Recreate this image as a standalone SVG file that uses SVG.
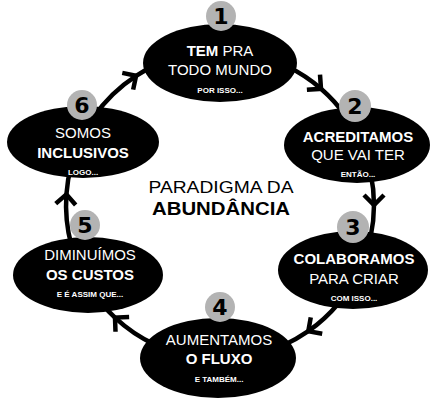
<svg xmlns="http://www.w3.org/2000/svg" width="440" height="400" viewBox="0 0 440 400">
<style>
.el{fill:#000}
.bd{fill:#b3b3b3}
.dg{font-family:"DejaVu Sans",sans-serif;font-weight:bold;font-size:22px;fill:#000;text-anchor:middle}
.t{font-family:"Liberation Sans",Arial,sans-serif;font-size:15px;fill:#fff;text-anchor:middle}
.b{font-weight:bold}
.s{font-family:"Liberation Sans",Arial,sans-serif;font-size:8px;font-weight:bold;fill:#fff;text-anchor:middle}
.c{fill:none;stroke:#000;stroke-width:4.5}
.ti{font-family:"Liberation Sans",Arial,sans-serif;fill:#000;text-anchor:middle}
</style>
<defs>
<marker id="chev" markerUnits="userSpaceOnUse" markerWidth="30" markerHeight="30" refX="0" refY="0" viewBox="-15 -15 30 30" orient="auto" overflow="visible">
<path d="M -10 -10 L 0 0 L -10 10" fill="none" stroke="#000" stroke-width="4.5"/>
</marker>
</defs>
<rect width="440" height="400" fill="#fff"/>
<g id="connectors">
<path class="c" marker-mid="url(#chev)" d="M 287.5 66.6 A 154 154 0 0 1 321.0 88.8 A 154 154 0 0 1 346.2 116.7"/>
<path class="c" marker-mid="url(#chev)" d="M 370.6 173.0 A 154 154 0 0 1 374 205 A 154 154 0 0 1 370.6 237.0"/>
<path class="c" marker-mid="url(#chev)" d="M 338.0 304.0 A 154 154 0 0 1 308.3 331.2 A 154 154 0 0 1 282.6 345.7"/>
<path class="c" marker-mid="url(#chev)" d="M 154.9 344.6 A 154 154 0 0 1 115.0 317.6 A 154 154 0 0 1 102.0 304.0"/>
<path class="c" marker-mid="url(#chev)" d="M 71.3 244.9 A 154 154 0 0 1 66.4 194.3 A 154 154 0 0 1 71.3 165.1"/>
<path class="c" marker-mid="url(#chev)" d="M 93.8 116.7 A 154 154 0 0 1 136.1 75.8 A 154 154 0 0 1 154.9 65.4"/>
</g>
<g id="node1">
<ellipse class="el" cx="220" cy="63" rx="77" ry="39"/>
<circle class="bd" cx="221" cy="16" r="15"/>
<text class="dg" x="221" y="24">1</text>
<text class="t" x="220" y="56"><tspan class="b">TEM</tspan> PRA</text>
<text class="t" x="220" y="75">TODO MUNDO</text>
<text class="s" x="220" y="93">POR ISSO...</text>
</g>
<g id="node2">
<ellipse class="el" cx="357" cy="145" rx="73" ry="38"/>
<circle class="bd" cx="355" cy="106" r="16"/>
<text class="dg" x="355" y="114">2</text>
<text class="t b" x="358" y="142">ACREDITAMOS</text>
<text class="t" x="358" y="160">QUE VAI TER</text>
<text class="s" x="358" y="177">ENTÃO...</text>
</g>
<g id="node3">
<ellipse class="el" cx="353" cy="270" rx="75" ry="39"/>
<circle class="bd" cx="353" cy="227" r="16"/>
<text class="dg" x="353" y="235">3</text>
<text class="t b" x="354" y="264">COLABORAMOS</text>
<text class="t" x="354" y="284">PARA CRIAR</text>
<text class="s" x="354" y="301">COM ISSO...</text>
</g>
<g id="node4">
<ellipse class="el" cx="218" cy="358" rx="78" ry="40"/>
<circle class="bd" cx="220" cy="307" r="15"/>
<text class="dg" x="220" y="315">4</text>
<text class="t" x="219" y="345">AUMENTAMOS</text>
<text class="t b" x="219" y="364">O FLUXO</text>
<text class="s" x="219" y="382">E TAMBÉM...</text>
</g>
<g id="node5">
<ellipse class="el" cx="88" cy="275" rx="75" ry="38"/>
<circle class="bd" cx="85" cy="225" r="15"/>
<text class="dg" x="85" y="233">5</text>
<text class="t" x="90" y="260">DIMINUÍMOS</text>
<text class="t b" x="90" y="280">OS CUSTOS</text>
<text class="s" x="90" y="297">E É ASSIM QUE...</text>
</g>
<g id="node6">
<ellipse class="el" cx="83" cy="142" rx="76" ry="36"/>
<circle class="bd" cx="82" cy="105" r="15"/>
<text class="dg" x="82" y="113">6</text>
<text class="t" x="83" y="138">SOMOS</text>
<text class="t b" x="83" y="158">INCLUSIVOS</text>
<text class="s" x="83" y="175">LOGO...</text>
</g>
<g id="title">
<text class="ti" x="221" y="193" font-size="16.5" textLength="145" lengthAdjust="spacingAndGlyphs">PARADIGMA DA</text>
<text class="ti" x="221" y="215" font-size="19" font-weight="bold" textLength="138" lengthAdjust="spacingAndGlyphs">ABUNDÂNCIA</text>
</g>
</svg>
